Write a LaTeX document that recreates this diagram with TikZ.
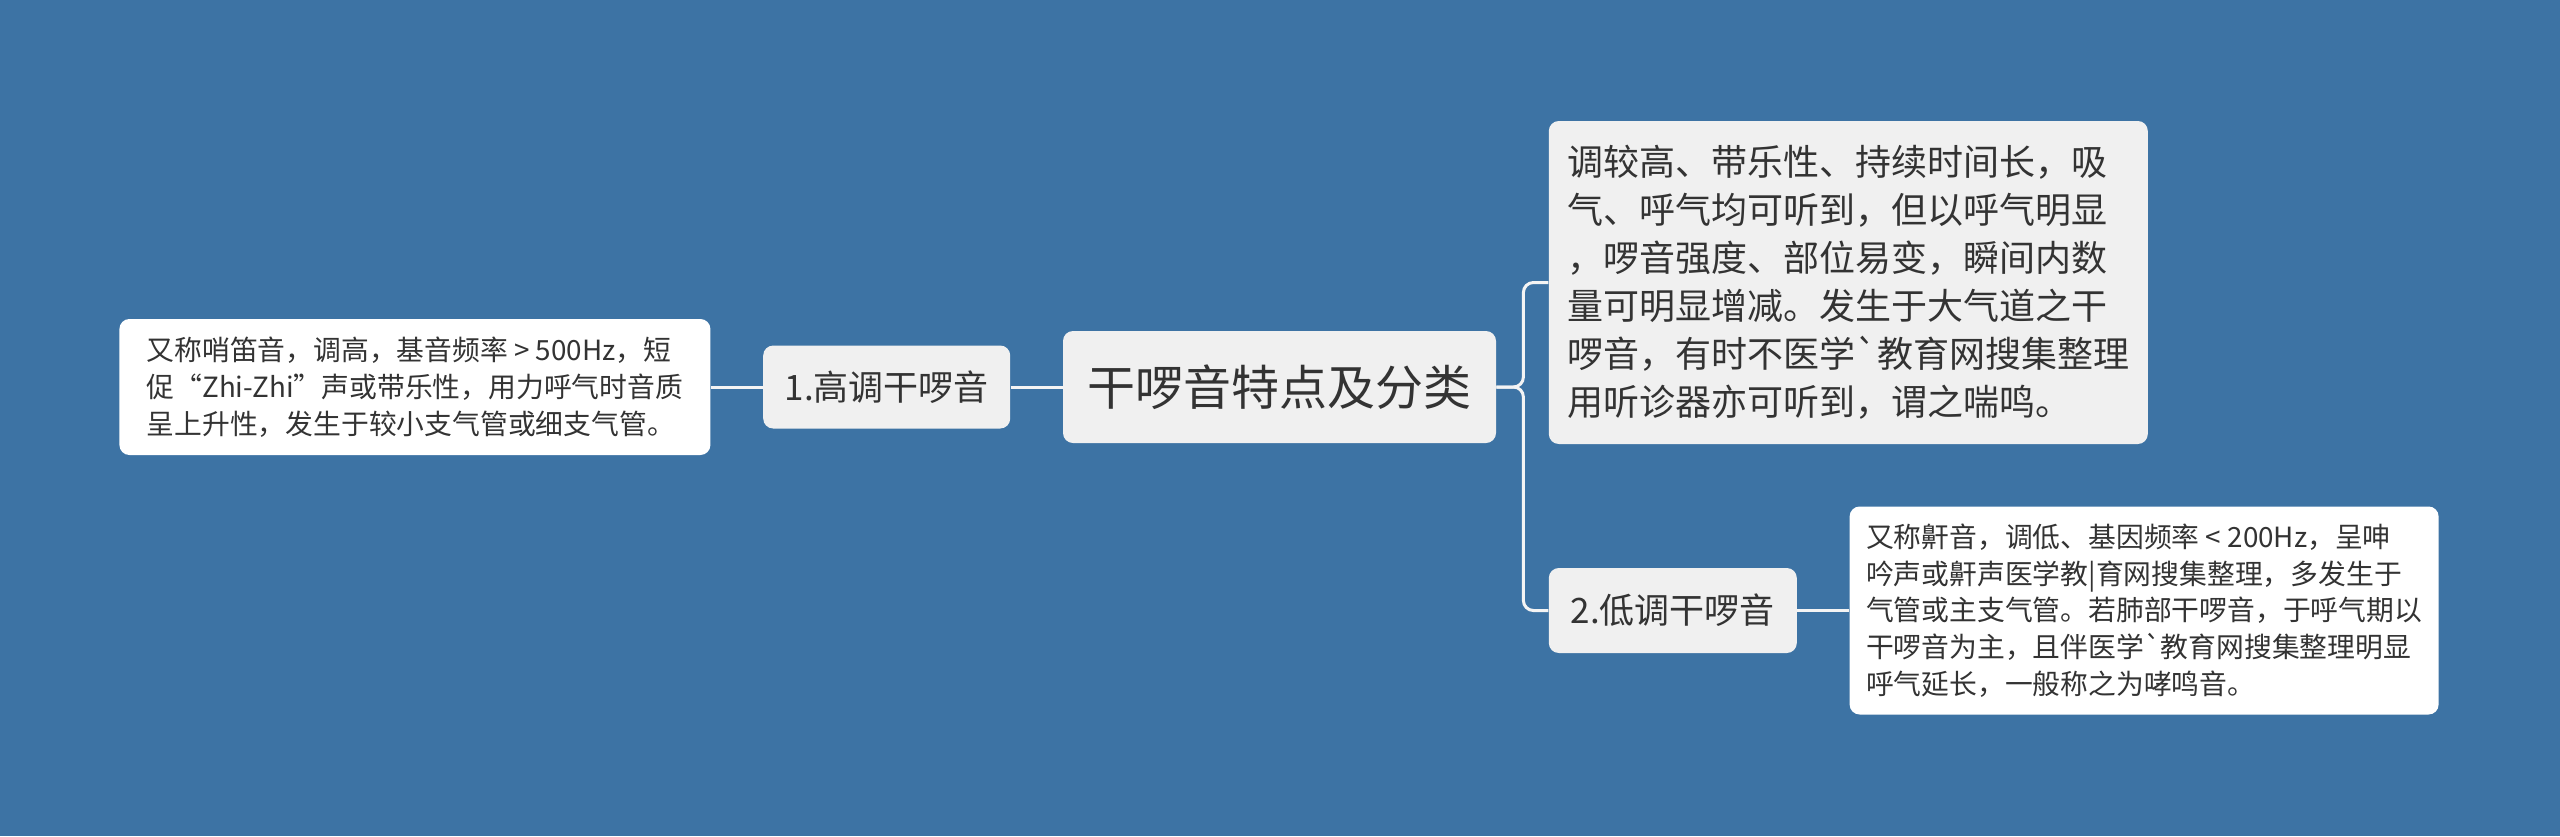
\documentclass[tikz,border=0pt]{standalone}
\usepackage{fontspec}
\usepackage{xcolor}
\usepackage{tikz}
\usetikzlibrary{positioning,calc}
\newfontfamily\cjk{Noto Sans CJK SC}
\definecolor{bgblue}{HTML}{3D73A4}
\definecolor{topicfill}{HTML}{F0F0F0}
\definecolor{leaffill}{HTML}{FFFFFF}
\definecolor{linkwhite}{HTML}{F4F4F4}
\definecolor{inkgray}{HTML}{333333}

\begin{document}
\begin{tikzpicture}[font=\cjk, text=inkgray,
  topic/.style={rounded corners=5pt,fill=topicfill,align=center,inner sep=0pt},
  leaf/.style={rounded corners=5pt,fill=leaffill,align=left,inner sep=0pt,font=\cjk\fontsize{13.9}{18.4}\selectfont},
  link/.style={draw=linkwhite,line width=1.5pt}]
  \fill[bgblue] (0,0) rectangle (1280pt,-418pt);
  \useasboundingbox (0,0) rectangle (1280pt,-418pt);

  \node[topic,minimum width=216.5pt,minimum height=56pt,font=\cjk\fontsize{24}{28}\selectfont] (root) at (639.75pt,-193.5pt) {干啰音特点及分类};
  \node[topic,left=26pt of root,minimum width=123.5pt,minimum height=41.5pt,font=\cjk\fontsize{17.5}{21}\selectfont] (hi) {1.高调干啰音};
  \node[leaf,left=26pt of hi,minimum width=295.5pt,minimum height=68pt] (hileaf) {又称哨笛音，调高，基音频率 > 500Hz，短\\促“Zhi-Zhi”声或带乐性，用力呼气时音质\\呈上升性，发生于较小支气管或细支气管。};

  \node[topic,align=left,anchor=west,minimum width=299.5pt,minimum height=161.5pt,font=\cjk\fontsize{18}{24}\selectfont] (desc) at ($(root.east)+(26pt,52.25pt)$) {调较高、带乐性、持续时间长，吸\\气、呼气均可听到，但以呼气明显\\，啰音强度、部位易变，瞬间内数\\量可明显增减。发生于大气道之干\\啰音，有时不医学\textasciigrave 教育网搜集整理\\用听诊器亦可听到，谓之喘鸣。};
  \node[topic,anchor=west,minimum width=124pt,minimum height=42.5pt,font=\cjk\fontsize{17.5}{21}\selectfont] (lo) at ($(root.east)+(26pt,-111.75pt)$) {2.低调干啰音};
  \node[leaf,right=26pt of lo,minimum width=294.5pt,minimum height=104pt] (loleaf) {又称鼾音，调低、基因频率 < 200Hz，呈呻\\吟声或鼾声医学教|育网搜集整理，多发生于\\气管或主支气管。若肺部干啰音，于呼气期以\\干啰音为主，且伴医学\textasciigrave 教育网搜集整理明显\\呼气延长，一般称之为哮鸣音。};

  \draw[link] (hileaf.east) -- (hi.west);
  \draw[link] (hi.east) -- (root.west);
  \draw[link,rounded corners=5pt] (root.east) -- ++(13.5pt,0) |- (desc.west);
  \draw[link,rounded corners=5pt] (root.east) -- ++(13.5pt,0) |- (lo.west);
  \draw[link] (lo.east) -- (loleaf.west);
\end{tikzpicture}
\end{document}
